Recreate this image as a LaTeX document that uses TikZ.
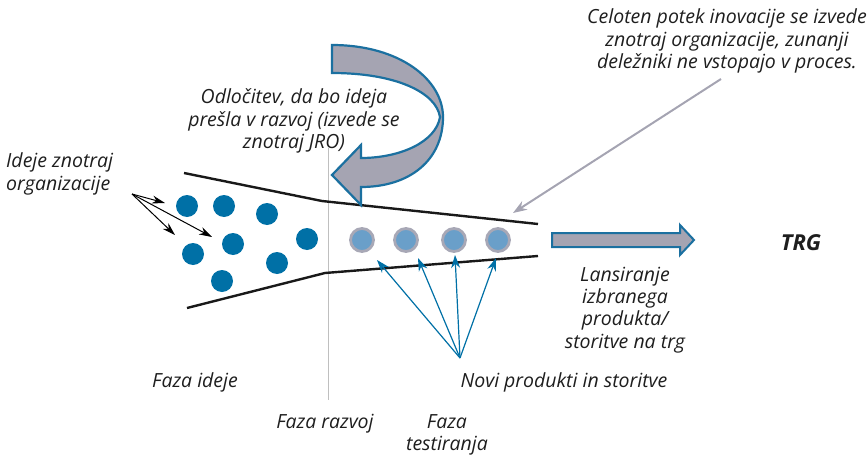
\documentclass[tikz,border=0pt]{standalone}
\usepackage{fontspec}
\setmainfont{Open Sans}
\usetikzlibrary{arrows.meta}
\definecolor{dotblue}{HTML}{0070A6}
\definecolor{lightdot}{HTML}{6A9FC9}
\definecolor{ringgray}{HTML}{A8A8B6}
\definecolor{arrgray}{HTML}{A5A4B2}
\definecolor{edgeblue}{HTML}{1B70A0}
\definecolor{txt}{HTML}{1E1E1E}
\tikzset{
  lbl/.style={font=\fontsize{19.5}{22.3}\selectfont\itshape, text=txt, inner sep=0pt, align=center},
  funnel/.style={line width=2.4pt, black!90},
  idea/.style={circle, fill=dotblue, minimum size=22pt, inner sep=0pt},
  prod/.style={circle, fill=lightdot, draw=ringgray, line width=2.8pt, minimum size=23pt, inner sep=0pt},
  blk/.style={-{Stealth[length=13pt,width=8pt]}, line width=1pt, black},
  blu/.style={-{Stealth[length=13pt,width=9pt]}, line width=1.2pt, dotblue},
  bigarrow/.style={fill=arrgray, draw=edgeblue, line width=2.2pt, line join=miter}
}
\begin{document}
\begin{tikzpicture}[x=1pt,y=-1pt]
\useasboundingbox (0,0) rectangle (868,455);
% vertical line
\draw[line width=0.8pt, black!25] (328,148) -- (328,400);
% funnel
\draw[funnel] (184,173) -- (322,201) -- (538,224);
\draw[funnel] (187,308) -- (325,273) -- (538,256);
% big curved arrow
\draw[bigarrow] (332,45) .. controls (400,45) and (443,80) .. (443,117)
  .. controls (443,160) and (410,187) .. (361,187)
  -- (361,205) -- (332,175) -- (361,145) -- (361,158)
  .. controls (400,158) and (436,142) .. (440,117)
  .. controls (436,92) and (395,73) .. (332,73) -- cycle;
% right arrow
\draw[bigarrow, line width=2pt] (552,233) -- (680,233) -- (680,225) -- (694,240) -- (680,255) -- (680,247) -- (552,247) -- cycle;
% idea dots
\node[idea] (d1) at (187,206) {};
\node[idea] (d2) at (224,206) {};
\node[idea] (d3) at (267,214) {};
\node[idea] (d4) at (193,254) {};
\node[idea] (d5) at (233,244) {};
\node[idea] (d6) at (277,263) {};
\node[idea] (d7) at (307,239) {};
\node[idea] (d8) at (222,281) {};
% product dots
\node[prod] (p1) at (362,240) {};
\node[prod] (p2) at (406,240) {};
\node[prod] (p3) at (454,240) {};
\node[prod] (p4) at (498,240) {};
% texts
\node[lbl, align=left, anchor=west] (ideje) at (6,174) {Ideje znotraj\\organizacije};
\node[lbl] (odl) at (294,121) {Odločitev, da bo ideja\\prešla v razvoj (izvede se\\znotraj JRO)};
\node[lbl] (cel) at (727,41) {Celoten potek inovacije se izvede\\znotraj organizacije, zunanji\\deležniki ne vstopajo v proces.};
\node[font=\fontsize{22}{26}\selectfont\bfseries\itshape, text=txt, inner sep=0pt] (trg) at (801,243) {TRG};
\node[lbl] (lans) at (625,310) {Lansiranje\\izbranega\\produkta/\\storitve na trg};
\node[lbl] (fi) at (195,382) {Faza ideje};
\node[lbl] (novi) at (564,382) {Novi produkti in storitve};
\node[lbl] (fr) at (325,424) {Faza razvoj};
\node[lbl] (ft) at (447,435) {Faza\\testiranja};
% black arrows
\coordinate (src) at (132,194);
\coordinate (t1) at (165,203);
\coordinate (t2) at (175,235);
\coordinate (t3) at (212,237);
\draw[blk] (src) -- (t1);
\draw[blk] (src) -- (t2);
\draw[blk] (src) -- (t3);
% blue arrows
\coordinate (bsrc) at (460,358);
\coordinate (b1) at (377,260);
\coordinate (b2) at (418,258);
\coordinate (b3) at (455,255);
\coordinate (b4) at (496,258);
\draw[blu] (bsrc) -- (b1);
\draw[blu] (bsrc) -- (b2);
\draw[blu] (bsrc) -- (b3);
\draw[blu] (bsrc) -- (b4);
% gray arrow
\coordinate (gs) at (721,79);
\coordinate (ge) at (513,213);
\draw[-{Stealth[length=14pt,width=10pt]}, line width=2pt, arrgray] (gs) -- (ge);
\end{tikzpicture}
\end{document}
